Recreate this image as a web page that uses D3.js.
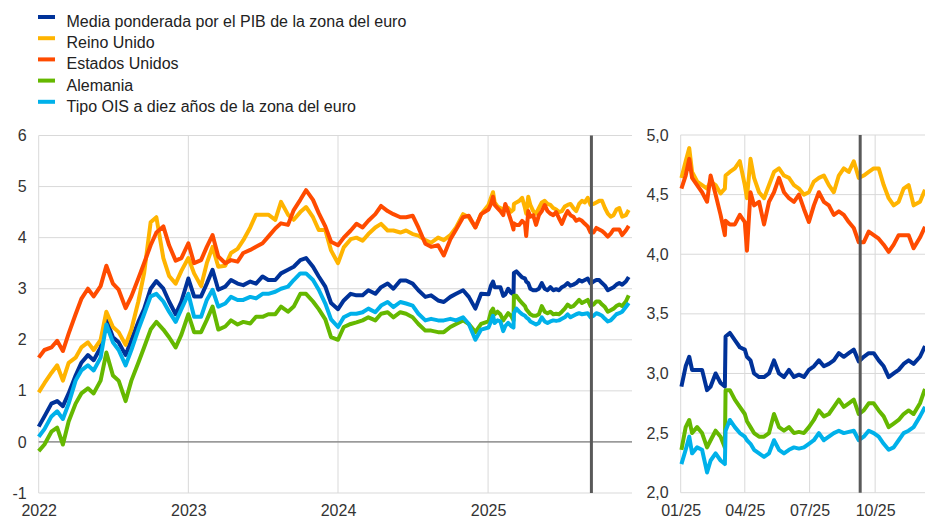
<!DOCTYPE html>
<html>
<head>
<meta charset="utf-8">
<script src="https://cdn.jsdelivr.net/npm/d3@7"></script>
<style>
  body { margin: 0; background: #fff; }
  text { font-family: "Liberation Sans", Arial, sans-serif; }
</style>
</head>
<body>
<svg id="chart" width="925" height="518"></svg>
<script>
// ---- data ----
const dates = [
  // 2022-2024, twice a month
  "2022-01-01","2022-01-15","2022-02-01","2022-02-15","2022-03-01","2022-03-15","2022-04-01","2022-04-15",
  "2022-05-01","2022-05-15","2022-06-01","2022-06-15","2022-07-01","2022-07-15","2022-08-01","2022-08-15",
  "2022-09-01","2022-09-15","2022-10-01","2022-10-15","2022-11-01","2022-11-15","2022-12-01","2022-12-15",
  "2023-01-01","2023-01-15","2023-02-01","2023-02-15","2023-03-01","2023-03-15","2023-04-01","2023-04-15",
  "2023-05-01","2023-05-15","2023-06-01","2023-06-15","2023-07-01","2023-07-15","2023-08-01","2023-08-15",
  "2023-09-01","2023-09-15","2023-10-01","2023-10-15","2023-11-01","2023-11-15","2023-12-01","2023-12-15",
  "2024-01-01","2024-01-15","2024-02-01","2024-02-15","2024-03-01","2024-03-15","2024-04-01","2024-04-15",
  "2024-05-01","2024-05-15","2024-06-01","2024-06-15","2024-07-01","2024-07-15","2024-08-01","2024-08-15",
  "2024-09-01","2024-09-15","2024-10-01","2024-10-15","2024-11-01","2024-11-15","2024-12-01","2024-12-15",
  // 2025, roughly weekly
  "2025-01-02","2025-01-08","2025-01-13","2025-01-17","2025-01-24","2025-01-31",
  "2025-02-07","2025-02-12","2025-02-19","2025-02-26",
  "2025-03-04","2025-03-05","2025-03-11","2025-03-18","2025-03-25",
  "2025-04-01","2025-04-04","2025-04-09","2025-04-14","2025-04-21","2025-04-28",
  "2025-05-05","2025-05-12","2025-05-19","2025-05-26",
  "2025-06-02","2025-06-09","2025-06-16","2025-06-23","2025-06-30",
  "2025-07-07","2025-07-14","2025-07-21","2025-07-28",
  "2025-08-04","2025-08-11","2025-08-18","2025-08-25",
  "2025-09-01","2025-09-08","2025-09-15","2025-09-22","2025-09-29",
  "2025-10-06","2025-10-13","2025-10-20","2025-10-27",
  "2025-11-03","2025-11-10","2025-11-17","2025-11-24",
  "2025-12-03","2025-12-10"
];

const euroArea = [
  0.3, 0.5, 0.75, 0.8, 0.7, 0.95, 1.3, 1.55, 1.7, 1.6, 1.85, 2.4, 2.05, 1.95, 1.7, 2.0, 2.35, 2.6, 3.0, 3.15, 3.0, 2.75, 2.5, 2.75,
  3.2, 2.85, 2.85, 3.1, 3.37, 2.98, 3.04, 3.17, 3.1, 3.07, 3.14, 3.1, 3.24, 3.17, 3.17, 3.3, 3.37, 3.43, 3.56, 3.6, 3.43, 3.24, 3.04, 2.72,
  2.6, 2.77, 2.9, 2.87, 2.87, 2.97, 2.9, 3.03, 3.1, 3.0, 3.16, 3.16, 3.1, 2.97, 2.84, 2.87, 2.77, 2.74, 2.84, 2.9, 2.97, 2.84, 2.61, 2.9,
  2.89, 3.06, 3.14, 3.03, 3.03, 3.03, 2.86, 2.89, 3.0, 2.92, 2.89, 3.31, 3.34, 3.28, 3.22,
  3.2, 3.14, 3.11, 3.0, 2.97, 2.97, 3.0, 3.11, 3.0, 2.97, 3.03, 2.97, 2.99, 2.97, 3.03,
  3.06, 3.11, 3.06, 3.08, 3.11, 3.17, 3.14, 3.17, 3.2, 3.1, 3.14, 3.17, 3.17,
  3.11, 3.06, 2.97, 3.0, 3.03, 3.08, 3.11, 3.08, 3.14, 3.23
];

const unitedKingdom = [
  0.97, 1.15, 1.35, 1.5, 1.2, 1.55, 1.65, 1.85, 1.95, 1.8, 2.0, 2.55, 2.25, 2.15, 1.9, 2.2, 2.75, 3.3, 4.3, 4.4, 3.6, 3.25, 3.1, 3.35,
  3.6, 3.3, 3.05, 3.5, 3.82, 3.43, 3.45, 3.7, 3.78, 3.95, 4.2, 4.45, 4.45, 4.45, 4.35, 4.7, 4.45, 4.35, 4.5, 4.6, 4.4, 4.15, 4.15, 3.75,
  3.5, 3.81, 3.97, 4.0, 3.94, 4.07, 4.2, 4.27, 4.14, 4.14, 4.1, 4.14, 4.07, 4.04, 3.95, 3.9, 4.0, 3.95, 4.05, 4.2, 4.46, 4.4, 4.2, 4.46,
  4.64, 4.78, 4.89, 4.69, 4.61, 4.58, 4.55, 4.61, 4.58, 4.51, 4.55, 4.66, 4.69, 4.72, 4.78,
  4.58, 4.47, 4.8, 4.64, 4.52, 4.47, 4.58, 4.69, 4.72, 4.66, 4.64, 4.58, 4.55, 4.5, 4.52,
  4.61, 4.64, 4.66, 4.58, 4.52, 4.66, 4.72, 4.69, 4.78, 4.64, 4.66, 4.69, 4.72,
  4.72, 4.58, 4.47, 4.41, 4.44, 4.55, 4.58, 4.41, 4.44, 4.54
];

const unitedStates = [
  1.65, 1.8, 1.85, 1.98, 1.78, 2.12, 2.5, 2.8, 3.0, 2.85, 3.05, 3.45, 3.1, 2.98, 2.62, 2.85, 3.2, 3.5, 3.85, 4.1, 4.22, 3.85, 3.55, 3.6,
  3.89, 3.5, 3.56, 3.82, 4.05, 3.63, 3.5, 3.56, 3.53, 3.7, 3.76, 3.82, 3.89, 4.02, 4.18, 4.28, 4.25, 4.54, 4.74, 4.93, 4.74, 4.48, 4.22, 3.92,
  3.85, 4.0, 4.14, 4.27, 4.2, 4.33, 4.46, 4.62, 4.52, 4.46, 4.4, 4.4, 4.43, 4.2, 3.88, 3.82, 3.85, 3.65, 3.97, 4.16, 4.4, 4.43, 4.2, 4.46,
  4.55, 4.66, 4.8, 4.64, 4.58, 4.52, 4.44, 4.66, 4.5, 4.33, 4.16, 4.28, 4.25, 4.25, 4.33,
  4.27, 4.03, 4.52, 4.41, 4.44, 4.25, 4.44, 4.52, 4.64, 4.52, 4.47, 4.44, 4.5, 4.38, 4.27,
  4.41, 4.52, 4.44, 4.41, 4.33, 4.36, 4.33, 4.27, 4.22, 4.1, 4.1, 4.19, 4.16,
  4.13, 4.08, 4.02, 4.08, 4.16, 4.16, 4.16, 4.05, 4.14, 4.23
];

const germany = [
  -0.18, -0.05, 0.2, 0.28, -0.05, 0.4, 0.75, 0.95, 1.05, 0.95, 1.2, 1.75, 1.3, 1.2, 0.8, 1.2, 1.55, 1.85, 2.2, 2.35, 2.2, 2.05, 1.85, 2.1,
  2.5, 2.15, 2.15, 2.39, 2.65, 2.2, 2.26, 2.38, 2.3, 2.35, 2.32, 2.45, 2.45, 2.5, 2.5, 2.65, 2.55, 2.65, 2.9, 2.9, 2.75, 2.6, 2.4, 2.05,
  2.0, 2.25, 2.31, 2.34, 2.38, 2.44, 2.38, 2.51, 2.54, 2.44, 2.54, 2.51, 2.44, 2.31, 2.18, 2.18, 2.15, 2.15, 2.25, 2.31, 2.38, 2.31, 2.15, 2.31,
  2.36, 2.55, 2.61, 2.5, 2.55, 2.5, 2.38, 2.44, 2.52, 2.47, 2.38, 2.86, 2.86, 2.78, 2.72,
  2.66, 2.6, 2.55, 2.5, 2.47, 2.47, 2.5, 2.66, 2.55, 2.52, 2.55, 2.5, 2.51, 2.5, 2.55,
  2.61, 2.69, 2.64, 2.66, 2.72, 2.78, 2.72, 2.75, 2.78, 2.66, 2.69, 2.75, 2.75,
  2.69, 2.64, 2.55, 2.58, 2.61, 2.66, 2.69, 2.66, 2.75, 2.87
];

const euroOis = [
  0.1, 0.25, 0.5, 0.6, 0.45, 0.75, 1.2, 1.4, 1.5, 1.4, 1.65, 2.3, 1.95, 1.8, 1.5, 1.8, 2.2, 2.5, 2.85, 2.9, 2.75, 2.55, 2.35, 2.6,
  2.9, 2.45, 2.45, 2.78, 2.98, 2.65, 2.71, 2.84, 2.78, 2.78, 2.84, 2.81, 2.9, 2.9, 2.94, 3.0, 3.04, 3.17, 3.3, 3.3, 3.17, 2.98, 2.71, 2.4,
  2.25, 2.44, 2.51, 2.51, 2.54, 2.61, 2.54, 2.67, 2.74, 2.64, 2.74, 2.71, 2.67, 2.51, 2.38, 2.41, 2.38, 2.38, 2.41, 2.38, 2.44, 2.31, 2.0, 2.2,
  2.24, 2.36, 2.47, 2.33, 2.38, 2.36, 2.17, 2.27, 2.33, 2.27, 2.24, 2.52, 2.61, 2.55, 2.5,
  2.47, 2.44, 2.41, 2.36, 2.33, 2.3, 2.33, 2.44, 2.36, 2.33, 2.36, 2.38, 2.37, 2.38, 2.41,
  2.44, 2.5, 2.44, 2.47, 2.5, 2.52, 2.5, 2.51, 2.52, 2.44, 2.47, 2.52, 2.5,
  2.47, 2.41, 2.36, 2.38, 2.44, 2.5, 2.52, 2.55, 2.64, 2.72
];

const seriesNames = [
  "Media ponderada por el PIB de la zona del euro",
  "Reino Unido",
  "Estados Unidos",
  "Alemania",
  "Tipo OIS a diez años de la zona del euro"
];
const seriesValues = [euroArea, unitedKingdom, unitedStates, germany, euroOis];
const seriesColors = ["#003299", "#FFB400", "#FF4B00", "#65B800", "#00B1EA"];

const leftYTicks = [-1, 0, 1, 2, 3, 4, 5, 6];
const leftXTicks = ["2022-01-01", "2023-01-01", "2024-01-01", "2025-01-01"];
const rightYTicks = [2.0, 2.5, 3.0, 3.5, 4.0, 4.5, 5.0];
const rightXTicks = ["2025-01-01", "2025-04-01", "2025-07-01", "2025-10-01"];
const markerDate = "2025-09-10";

// ---- setup ----
const parse = d3.utcParse("%Y-%m-%d");
const svg = d3.select("#chart");

const series = seriesNames.map((name, i) => ({
  name,
  color: seriesColors[i],
  values: dates.map((d, j) => ({ date: parse(d), value: seriesValues[i][j] }))
}));

// spanish decimal comma, plain hyphen for negatives
const comma = d3.formatLocale({ decimal: ",", thousands: ".", grouping: [3], currency: ["", "€"], minus: "-" }).format(".1f");
const plain = d => String(d);

function panel(opts) {
  const { x, y, xTicks, yTicks, xFormat, yFormat, zeroLine, from } = opts;
  const g = svg.append("g");
  const [x0, x1] = x.range();
  const [y0, y1] = y.range();

  // horizontal grid
  g.selectAll("line.hgrid").data(yTicks).join("line")
    .attr("class", "hgrid")
    .attr("x1", x0).attr("x2", x1)
    .attr("y1", d => y(d)).attr("y2", d => y(d))
    .attr("stroke", "#d9d9d9").attr("stroke-width", 1);

  // vertical grid
  g.selectAll("line.vgrid").data(xTicks.map(parse)).join("line")
    .attr("class", "vgrid")
    .attr("x1", d => x(d)).attr("x2", d => x(d))
    .attr("y1", y0).attr("y2", y1)
    .attr("stroke", "#d9d9d9").attr("stroke-width", 1);

  if (zeroLine) {
    g.append("line")
      .attr("x1", x0).attr("x2", x1)
      .attr("y1", y(0)).attr("y2", y(0))
      .attr("stroke", "#7f7f7f").attr("stroke-width", 1.3);
  }

  // axes (labels only)
  const ya = g.append("g")
    .attr("transform", `translate(${x0},0)`)
    .call(d3.axisLeft(y).tickValues(yTicks).tickFormat(yFormat).tickSize(0).tickPadding(12));
  const xa = g.append("g")
    .attr("transform", `translate(0,${y0})`)
    .call(d3.axisBottom(x).tickValues(xTicks.map(parse)).tickFormat(xFormat).tickSize(0).tickPadding(11.5));
  [ya, xa].forEach(a => {
    a.select(".domain").remove();
    a.selectAll("text")
      .attr("font-size", 16)
      .attr("font-family", "'Liberation Sans', Arial, sans-serif")
      .attr("fill", "#333");
  });

  // lines
  const line = d3.line()
    .x(d => x(d.date))
    .y(d => y(d.value));
  g.selectAll("path.series").data(series).join("path")
    .attr("class", "series")
    .attr("fill", "none")
    .attr("stroke", d => d.color)
    .attr("stroke-width", 4)
    .attr("stroke-linejoin", "round")
    .attr("d", d => line(d.values.filter(v => v.date >= from)));

  // marker
  const mx = x(parse(markerDate));
  g.append("line")
    .attr("x1", mx).attr("x2", mx)
    .attr("y1", y0).attr("y2", y1)
    .attr("stroke", "#595959").attr("stroke-width", 3);
}

// left panel: full history
panel({
  x: d3.scaleUtc().domain([parse("2022-01-01"), parse("2025-12-18")]).range([38.7, 632]),
  y: d3.scaleLinear().domain([-1, 6]).range([493, 135.5]),
  xTicks: leftXTicks,
  yTicks: leftYTicks,
  xFormat: d3.utcFormat("%Y"),
  yFormat: plain,
  zeroLine: true,
  from: parse("2022-01-01")
});

// right panel: 2025 detail
panel({
  x: d3.scaleUtc().domain([parse("2025-01-01"), parse("2025-12-10")]).range([680.7, 925]),
  y: d3.scaleLinear().domain([2, 5]).range([492.7, 135]),
  xTicks: rightXTicks,
  yTicks: rightYTicks,
  xFormat: d3.utcFormat("%m/%y"),
  yFormat: comma,
  zeroLine: false,
  from: parse("2025-01-01")
});

// legend
const legend = svg.append("g");
const rows = legend.selectAll("g").data(series).join("g")
  .attr("transform", (d, i) => `translate(0,${27 + i * 21.2})`);
rows.append("line")
  .attr("x1", 38).attr("x2", 55)
  .attr("y1", -10).attr("y2", -10)
  .attr("stroke", d => d.color).attr("stroke-width", 4);
rows.append("text")
  .attr("x", 66.5)
  .attr("font-size", 16)
  .attr("fill", "#222")
  .text(d => d.name);
</script>
</body>
</html>
